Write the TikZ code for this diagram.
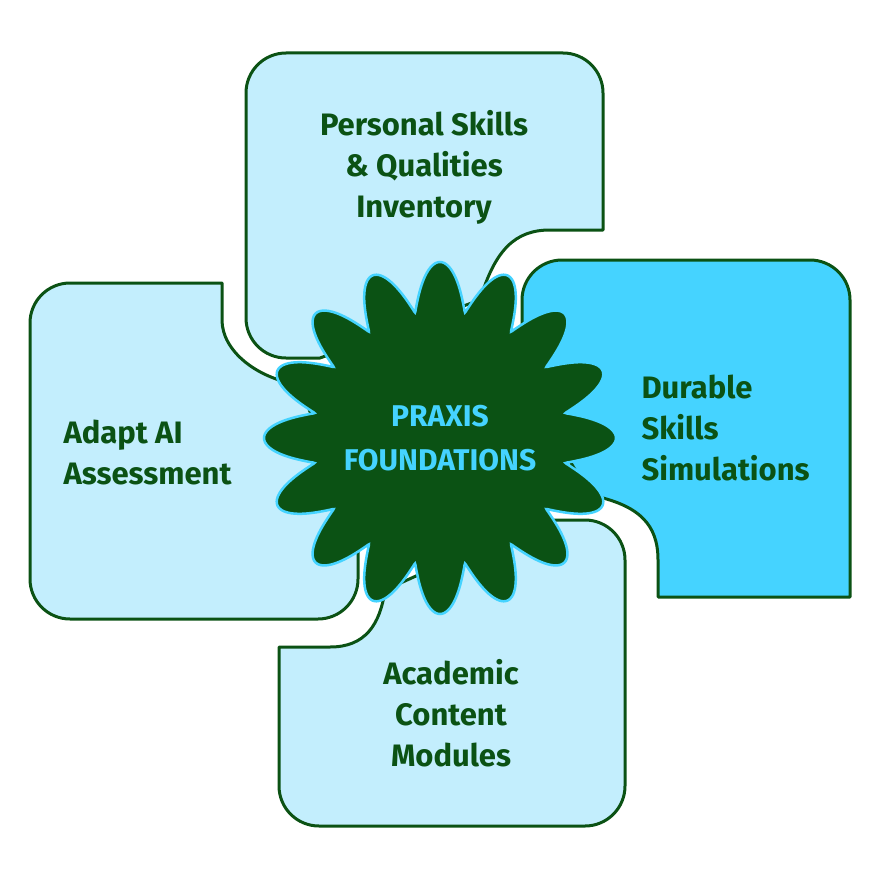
\documentclass[tikz,border=0pt]{standalone}
\usepackage{fontspec}
\setmainfont{Fira Sans}
\usetikzlibrary{positioning}
\definecolor{boxblue}{HTML}{C3EEFD}
\definecolor{hotblue}{HTML}{45D3FF}
\definecolor{leaf}{HTML}{0B5214}
\tikzset{
  tile/.style={draw=leaf, line width=3pt, line join=round},
  label/.style={text=leaf, font=\fontsize{31}{41}\selectfont\bfseries, align=#1},
  label/.default=center
}
\begin{document}
\begin{tikzpicture}[x=1pt, y=-1pt]
  \useasboundingbox (0,0) rectangle (880,880);
  % Top tile
  \draw[tile, fill=boxblue] (480,300) .. controls (495,250) and (515,230) .. (550,230)
    -- (603,230) -- (603,93) arc[start angle=0, end angle=-90, radius=40] -- (286,53)
    arc[start angle=-90, end angle=-180, radius=40] -- (246,318)
    arc[start angle=180, end angle=90, radius=40] -- (320,358) -- cycle;
  % Right tile
  \draw[tile, fill=hotblue] (522,380) -- (522,300) arc[start angle=180, end angle=270, radius=40]
    -- (810,260) arc[start angle=-90, end angle=0, radius=40] -- (850,597) -- (658,597)
    -- (658,560) .. controls (658,525) and (640,505) .. (590,495) -- cycle;
  % Bottom tile
  \draw[tile, fill=boxblue] (540,520) -- (585,520) arc[start angle=-90, end angle=0, radius=40]
    -- (625,786) arc[start angle=0, end angle=90, radius=40] -- (319,826)
    arc[start angle=90, end angle=180, radius=40] -- (279,647) -- (330,647)
    .. controls (365,647) and (380,625) .. (385,590) -- cycle;
  % Left tile
  \draw[tile, fill=boxblue] (300,385) .. controls (255,378) and (222,350) .. (222,320)
    -- (222,283) -- (70,283) arc[start angle=-90, end angle=-180, radius=40] -- (30,579)
    arc[start angle=180, end angle=90, radius=40] -- (318,619)
    arc[start angle=90, end angle=0, radius=40] -- (358,540) -- cycle;
  % Centre star
  \path (440,438) coordinate (hub);
  \draw[fill=leaf, draw=hotblue, line width=2.5pt, shift={(hub)}]
    plot[domain=0:360, samples=577, smooth]
      (\x:{128+48*pow(abs(cos(8*\x)),1.1)}) -- cycle;
  % Labels
  \node[text=hotblue, font=\fontsize{30}{44}\selectfont\bfseries, align=center] (core) at (hub) {PRAXIS\\FOUNDATIONS};
  \node[label] (personal) at (424,167) {Personal Skills\\\& Qualities\\Inventory};
  \node[label=left, anchor=west] (durable) at (638,428) {Durable\\Skills\\Simulations};
  \node[label=left, anchor=west] (adapt) at (60,452) {Adapt AI\\Assessment};
  \node[label] (academic) at (451,713) {Academic\\Content\\Modules};
\end{tikzpicture}
\end{document}
